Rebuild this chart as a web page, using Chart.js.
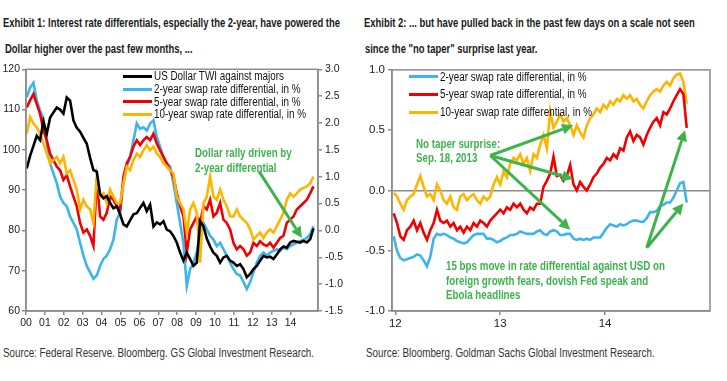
<!DOCTYPE html>
<html>
<head>
<meta charset="utf-8">
<script src="https://cdn.jsdelivr.net/npm/chart.js@4.4.1/dist/chart.umd.min.js"></script>
<style>
    body { margin: 0; width: 727px; height: 381px; background: #fff; position: relative; overflow: hidden;
           font-family: "Liberation Sans", Arial, sans-serif; }
    .abs { position: absolute; white-space: nowrap; transform-origin: 0 50%; }
    .title { font-weight: bold; font-size: 12.5px; line-height: 14px; color: #1a1a1a; }
    .src { font-size: 12.5px; line-height: 14px; color: #333; }
    .leg { font-size: 12.5px; line-height: 12px; color: #111; }
    .swatch { position: absolute; width: 29px; height: 3px; }
    .note { color: #3cb44b; font-weight: bold; font-size: 13px; line-height: 14px; }
    canvas { position: absolute; }
</style>
</head>
<body>
<div class="abs title" id="titleRef" style="left:3px; top:16px;">Exhibit 1: Interest rate differentials, especially the 2-year, have powered the</div>
<div class="abs title" style="left:5px; top:42px;">Dollar higher over the past few months, ...</div>
<div class="abs title" style="left:364px; top:16px;">Exhibit 2: ... but have pulled back in the past few days on a scale not seen</div>
<div class="abs title" style="left:365px; top:42px;">since the "no taper" surprise last year.</div>

<canvas id="leftChart" width="360" height="269" style="left:0; top:60px;"></canvas>
<canvas id="rightChart" width="367" height="269" style="left:360px; top:60px;"></canvas>

<div id="leftLegend"></div>
<div id="rightLegend"></div>

<div class="abs note" style="left:195px; top:146px;">Dollar rally driven by</div>
<div class="abs note" style="left:195px; top:161px;">2-year differential</div>
<div class="abs note" style="left:416px; top:137px;">No taper surprise:</div>
<div class="abs note" style="left:416px; top:151px;">Sep. 18, 2013</div>
<div class="abs note" id="noteRef" style="left:446px; top:259px;">15 bps move in rate differential against USD on</div>
<div class="abs note" style="left:446px; top:273.5px;">foreign growth fears, dovish Fed speak and</div>
<div class="abs note" style="left:446px; top:288px;">Ebola headlines</div>

<div class="abs src" id="srcRef" style="left:3px; top:346px;">Source: Federal Reserve. Bloomberg. GS Global Investment Research.</div>
<div class="abs src" style="left:366px; top:346px;">Source: Bloomberg. Goldman Sachs Global Investment Research.</div>

<script>
// ---- Exhibit 1 data (2000 - Oct 2014) ----
const leftStart = 2000.04;
const leftStep = 0.1764;
const leftYears = [2000, 2001, 2002, 2003, 2004, 2005, 2006, 2007, 2008, 2009, 2010, 2011, 2012, 2013, 2014];

const twi = [95.4, 98.5, 101.0, 103.5, 102.4, 107.0, 104.0, 108.0, 109.3, 110.5,
    110.0, 109.0, 113.0, 112.2, 107.3, 105.5, 104.5, 103.0, 101.5, 98.0,
    95.0, 94.6, 89.0, 88.0, 88.5, 86.8, 85.5, 86.0, 84.0, 81.5,
    81.0, 82.5, 84.0, 84.3, 85.6, 86.8, 84.8, 86.4, 81.0, 82.0,
    81.5, 82.3, 80.2, 79.8, 78.6, 77.0, 74.5, 72.5, 74.5, 72.9,
    71.2, 72.0, 82.3, 81.0, 78.0, 76.0, 74.5, 73.7, 72.0, 73.3,
    73.7, 72.5, 72.0, 71.2, 71.6, 70.4, 68.4, 69.2, 70.4, 71.2,
    72.5, 73.7, 73.3, 73.5, 72.9, 74.0, 75.3, 76.0, 75.7, 77.0,
    77.4, 77.2, 77.0, 77.4, 77.0, 77.8, 80.5];

const swap2yLong = [2.48, 2.66, 2.75, 2.42, 2.23, 2.08, 1.62, 1.25, 1.06, 0.88,
    0.63, 0.51, 0.45, 0.26, 0.14, 0.02, -0.23, -0.47, -0.66, -0.78,
    -0.90, -0.84, -0.66, -0.53, -0.47, -0.35, -0.17, 0.20, 0.33, 0.88,
    1.19, 1.37, 1.68, 1.99, 1.89, 1.92, 1.86, 1.99, 2.05, 1.74,
    1.56, 1.37, 1.25, 1.19, 0.88, 0.51, 0.14, -0.23, -1.03, -0.72,
    -0.60, -0.41, -0.10, 0.14, 0.02, -0.10, -0.17, -0.29, -0.23, -0.35,
    -0.47, -0.60, -0.72, -0.81, -0.84, -0.96, -1.09, -0.96, -0.78, -0.60,
    -0.47, -0.41, -0.47, -0.41, -0.38, -0.35, -0.38, -0.32, -0.35, -0.29,
    -0.26, -0.23, -0.20, -0.17, -0.14, -0.07, 0.08];

const swap5yLong = [2.29, 2.42, 2.54, 2.35, 2.17, 1.86, 1.68, 1.43, 1.31, 1.19,
    1.12, 0.94, 1.03, 0.82, 0.63, 0.45, 0.14, -0.04, 0.02, -0.10,
    -0.29, 0.95, 0.26, 0.20, 0.33, 0.63, 0.57, 0.45, 0.39, 1.00,
    1.25, 1.37, 1.56, 1.68, 1.59, 1.68, 1.74, 1.68, 1.80, 1.62,
    1.49, 1.37, 1.25, 1.12, 1.00, 0.69, 0.45, 0.26, -0.41, 0.02,
    0.14, 0.26, 0.14, 0.45, 0.39, 0.57, 0.26, 0.33, 0.51, 0.20,
    0.14, 0.02, -0.23, -0.35, -0.29, -0.35, -0.47, -0.41, -0.23, -0.29,
    -0.20, -0.26, -0.29, -0.23, -0.32, -0.23, -0.14, -0.10, 0.14, 0.20,
    0.26, 0.39, 0.45, 0.51, 0.57, 0.69, 0.82];

const swap10yLong = [1.80, 2.11, 1.99, 1.92, 1.80, 1.62, 1.43, 1.25, 1.31, 1.37,
    1.25, 1.37, 1.06, 1.12, 0.94, 0.76, 0.39, 0.57, 0.45, 0.39,
    0.14, 1.00, 0.63, 0.69, 0.51, 0.76, 0.63, 0.51, 0.51, 0.88,
    1.19, 1.12, 1.31, 1.43, 1.37, 1.49, 1.59, 1.49, 1.56, 1.43,
    1.37, 1.25, 1.19, 1.12, 1.06, 0.63, 0.51, 0.39, -0.04, 0.39,
    0.51, 0.33, -0.60, 0.51, 0.63, 1.00, 0.63, 0.57, 0.76, 0.57,
    0.45, 0.26, 0.26, 0.39, 0.26, 0.20, 0.14, 0.02, -0.17, -0.10,
    -0.04, -0.14, -0.04, 0.02, -0.04, 0.08, 0.20, 0.33, 0.57, 0.69,
    0.63, 0.69, 0.76, 0.79, 0.82, 0.88, 1.00];

// ---- Exhibit 2 data (2012 - Oct 2014) ----
const rightStart = 2011.984;
const rightStep = 0.03175;
const rightYears = [2012, 2013, 2014];

const swap2y = [-0.38, -0.50, -0.56, -0.58, -0.57, -0.56, -0.55, -0.53, -0.54, -0.58,
    -0.63, -0.55, -0.40, -0.36, -0.37, -0.36, -0.37, -0.39, -0.40, -0.42,
    -0.43, -0.44, -0.43, -0.40, -0.37, -0.36, -0.36, -0.36, -0.40, -0.40,
    -0.41, -0.43, -0.42, -0.40, -0.39, -0.37, -0.37, -0.36, -0.34, -0.35,
    -0.36, -0.36, -0.36, -0.34, -0.33, -0.36, -0.37, -0.34, -0.33, -0.34,
    -0.37, -0.37, -0.36, -0.36, -0.40, -0.41, -0.40, -0.41, -0.40, -0.41,
    -0.39, -0.39, -0.39, -0.35, -0.31, -0.28, -0.29, -0.30, -0.28, -0.29,
    -0.28, -0.26, -0.25, -0.25, -0.26, -0.26, -0.23, -0.18, -0.18, -0.17,
    -0.13, -0.12, -0.10, -0.10, -0.06, 0.00, 0.06, 0.07, -0.10];

const swap5y = [-0.19, -0.27, -0.38, -0.41, -0.33, -0.30, -0.25, -0.33, -0.27, -0.35,
    -0.41, -0.33, -0.27, -0.16, -0.25, -0.27, -0.25, -0.30, -0.27, -0.33,
    -0.30, -0.35, -0.30, -0.33, -0.27, -0.30, -0.25, -0.27, -0.30, -0.25,
    -0.22, -0.19, -0.16, -0.19, -0.14, -0.16, -0.11, -0.14, -0.11, -0.16,
    -0.19, -0.14, -0.16, -0.11, -0.11, 0.03, 0.08, 0.14, 0.28, 0.12,
    0.13, 0.08, 0.12, 0.21, 0.05, 0.00, 0.07, 0.03, 0.00, 0.05,
    0.11, 0.14, 0.19, 0.22, 0.27, 0.25, 0.30, 0.27, 0.35, 0.33,
    0.44, 0.49, 0.41, 0.46, 0.44, 0.38, 0.46, 0.52, 0.57, 0.60,
    0.54, 0.65, 0.63, 0.68, 0.74, 0.79, 0.84, 0.80, 0.52];

const swap10y = [-0.02, -0.05, -0.11, -0.16, -0.08, -0.05, -0.03, 0.05, 0.12, 0.03,
    -0.05, -0.03, -0.08, 0.05, 0.00, -0.08, -0.11, -0.05, -0.14, -0.16,
    -0.05, -0.03, -0.08, -0.05, -0.03, -0.08, -0.11, -0.05, -0.08, -0.05,
    0.05, 0.11, 0.05, 0.16, 0.11, 0.22, 0.27, 0.25, 0.30, 0.22,
    0.27, 0.16, 0.30, 0.27, 0.38, 0.46, 0.35, 0.66, 0.52, 0.57,
    0.63, 0.57, 0.60, 0.54, 0.46, 0.54, 0.48, 0.44, 0.54, 0.60,
    0.63, 0.68, 0.65, 0.71, 0.68, 0.74, 0.71, 0.76, 0.74, 0.79,
    0.76, 0.79, 0.74, 0.76, 0.71, 0.68, 0.74, 0.79, 0.82, 0.84,
    0.82, 0.87, 0.90, 0.87, 0.93, 0.96, 0.97, 0.90, 0.72];

// annotation arrows, in data units [year, value]
const leftArrows = [
    { from: [2012.33, 1.10], to: [2014.60, -0.14] }
];
const rightArrows = [
    { from: [2012.905, 0.29], to: [2013.695, 0.54] },
    { from: [2012.905, 0.29], to: [2013.695, 0.095] },
    { from: [2012.905, 0.29], to: [2013.667, -0.325] },
    { from: [2014.397, -0.475], to: [2014.762, 0.50] },
    { from: [2014.397, -0.475], to: [2014.746, -0.108] }
];

const BLACK = "#000000";
const BLUE = "#3cb4f0";
const RED = "#f00000";
const GOLD = "#ffb400";
const GREEN = "#3cb44b";
const AXIS = "#8c8c8c";

function toPoints(start, step, values) {
    return values.map((v, i) => ({ x: start + i * step, y: v }));
}

// legends (HTML so the text stays text)
function buildLegend(el, items, left, tops) {
    items.forEach((it, i) => {
        const sw = document.createElement("div");
        sw.className = "swatch";
        sw.style.left = left + "px";
        sw.style.top = (tops[i] + 4.5) + "px";
        sw.style.background = it.color;
        el.appendChild(sw);
        const row = document.createElement("div");
        row.className = "abs leg";
        row.style.left = (left + 31) + "px";
        row.style.top = tops[i] + "px";
        row.textContent = it.label;
        if (it.ref) row.id = "legRef";
        el.appendChild(row);
    });
}
buildLegend(document.getElementById("leftLegend"), [
    { label: "US Dollar TWI against majors", color: BLACK },
    { label: "2-year swap rate differential, in %", color: BLUE },
    { label: "5-year swap rate differential, in %", color: RED },
    { label: "10-year swap rate differential, in %", color: GOLD, ref: true }
], 123, [70, 83, 95.5, 108]);
buildLegend(document.getElementById("rightLegend"), [
    { label: "2-year swap rate differential, in %", color: BLUE },
    { label: "5-year swap rate differential, in %", color: RED },
    { label: "10-year swap rate differential, in %", color: GOLD }
], 409, [70.5, 88, 106]);

// the original uses a condensed face; squeeze each text group to its measured width
function fitGroup(cls, refId, target) {
    const k = target / document.getElementById(refId).getBoundingClientRect().width;
    document.querySelectorAll("." + cls).forEach((el) => { el.style.transform = `scaleX(${k})`; });
}
fitGroup("title", "titleRef", 337);
fitGroup("src", "srcRef", 311);
fitGroup("leg", "legRef", 152);
fitGroup("note", "noteRef", 219);

function drawArrow(ctx, x1, y1, x2, y2) {
    const ang = Math.atan2(y2 - y1, x2 - x1);
    const head = 11, half = 5.5;
    const bx = x2 - head * Math.cos(ang), by = y2 - head * Math.sin(ang);
    ctx.strokeStyle = GREEN;
    ctx.fillStyle = GREEN;
    ctx.lineWidth = 3;
    ctx.beginPath();
    ctx.moveTo(x1, y1);
    ctx.lineTo(bx, by);
    ctx.stroke();
    ctx.beginPath();
    ctx.moveTo(x2, y2);
    ctx.lineTo(bx + half * Math.sin(ang), by - half * Math.cos(ang));
    ctx.lineTo(bx - half * Math.sin(ang), by + half * Math.cos(ang));
    ctx.closePath();
    ctx.fill();
}

const framePlugin = {
    id: "frame",
    afterDatasetsDraw(chart, args, opts) {
        const { ctx, chartArea: a } = chart;
        ctx.save();
        ctx.strokeStyle = AXIS;
        ctx.lineWidth = 1.5;
        ctx.strokeRect(a.left, a.top, a.right - a.left, a.bottom - a.top);
        const xs = chart.scales.x, ys = chart.scales[opts.yAxis];
        (opts.arrows || []).forEach((ar) => {
            drawArrow(ctx,
                xs.getPixelForValue(ar.from[0]), ys.getPixelForValue(ar.from[1]),
                xs.getPixelForValue(ar.to[0]), ys.getPixelForValue(ar.to[1]));
        });
        ctx.restore();
    }
};

function axisGrid() {
    return { drawOnChartArea: false, drawTicks: true, tickLength: 4, color: AXIS, lineWidth: 1.5 };
}

const leftFont = { family: "'Liberation Sans', Arial, sans-serif", size: 10.5 };
const rightFont = { family: "'Liberation Sans', Arial, sans-serif", size: 11.5 };

new Chart(document.getElementById("leftChart"), {
    type: "line",
    plugins: [framePlugin],
    data: {
        datasets: [
            { label: "US Dollar TWI against majors", data: toPoints(leftStart, leftStep, twi), borderColor: BLACK, yAxisID: "y", order: 0 },
            { label: "2-year swap rate differential, in %", data: toPoints(leftStart, leftStep, swap2yLong), borderColor: BLUE, yAxisID: "y1", order: 3 },
            { label: "5-year swap rate differential, in %", data: toPoints(leftStart, leftStep, swap5yLong), borderColor: RED, yAxisID: "y1", order: 2 },
            { label: "10-year swap rate differential, in %", data: toPoints(leftStart, leftStep, swap10yLong), borderColor: GOLD, yAxisID: "y1", order: 1 }
        ]
    },
    options: {
        responsive: false,
        animation: false,
        events: [],
        layout: { padding: { top: 7, left: 0, right: 0, bottom: 0 } },
        elements: { point: { radius: 0 }, line: { borderWidth: 2.6, tension: 0 } },
        plugins: {
            legend: { display: false },
            tooltip: { enabled: false },
            frame: { arrows: leftArrows, yAxis: "y1" }
        },
        scales: {
            x: {
                type: "linear", min: 2000, max: 2015.45,
                afterBuildTicks: (s) => { s.ticks = leftYears.map((v) => ({ value: v })); },
                ticks: { callback: (v) => String(v).slice(2), autoSkip: false, maxRotation: 0, padding: 2, font: leftFont, color: "#222" },
                grid: axisGrid(),
                border: { color: AXIS, width: 1.5 },
                afterFit: (s) => { s.height = 18; }
            },
            y: {
                position: "left", min: 60, max: 120,
                ticks: { stepSize: 10, padding: 2, font: leftFont, color: "#222" },
                grid: axisGrid(),
                border: { color: AXIS, width: 1.5 },
                afterFit: (s) => { s.width = 26; }
            },
            y1: {
                position: "right", min: -1.5, max: 3.0,
                ticks: { stepSize: 0.5, padding: 3, font: leftFont, color: "#222", callback: (v) => v.toFixed(1) },
                grid: axisGrid(),
                border: { color: AXIS, width: 1.5 },
                afterFit: (s) => { s.width = 42; }
            }
        }
    }
});

new Chart(document.getElementById("rightChart"), {
    type: "line",
    plugins: [framePlugin],
    data: {
        datasets: [
            { label: "2-year swap rate differential, in %", data: toPoints(rightStart, rightStep, swap2y), borderColor: BLUE },
            { label: "5-year swap rate differential, in %", data: toPoints(rightStart, rightStep, swap5y), borderColor: RED },
            { label: "10-year swap rate differential, in %", data: toPoints(rightStart, rightStep, swap10y), borderColor: GOLD }
        ]
    },
    options: {
        responsive: false,
        animation: false,
        events: [],
        layout: { padding: { top: 6, left: 0, right: 17, bottom: 0 } },
        elements: { point: { radius: 0 }, line: { borderWidth: 2.6, tension: 0 } },
        plugins: {
            legend: { display: false },
            tooltip: { enabled: false },
            frame: { arrows: rightArrows, yAxis: "y" }
        },
        scales: {
            x: {
                type: "linear", min: 2011.968, max: 2015.0,
                afterBuildTicks: (s) => { s.ticks = rightYears.map((v) => ({ value: v })); },
                ticks: { callback: (v) => String(v).slice(2), autoSkip: false, maxRotation: 0, padding: 2, font: rightFont, color: "#222" },
                grid: axisGrid(),
                border: { color: AXIS, width: 1.5 },
                afterFit: (s) => { s.height = 18; }
            },
            y: {
                position: "left", min: -1, max: 1,
                ticks: { stepSize: 0.5, padding: 3, font: rightFont, color: "#222", callback: (v) => v.toFixed(1) },
                grid: {
                    drawOnChartArea: true, drawTicks: true, tickLength: 4, tickColor: AXIS, lineWidth: 1.5,
                    color: (c) => (c.tick && c.tick.value === 0 ? AXIS : "rgba(0,0,0,0)")
                },
                border: { color: AXIS, width: 1.5 },
                afterFit: (s) => { s.width = 32; }
            }
        }
    }
});
</script>
</body>
</html>
